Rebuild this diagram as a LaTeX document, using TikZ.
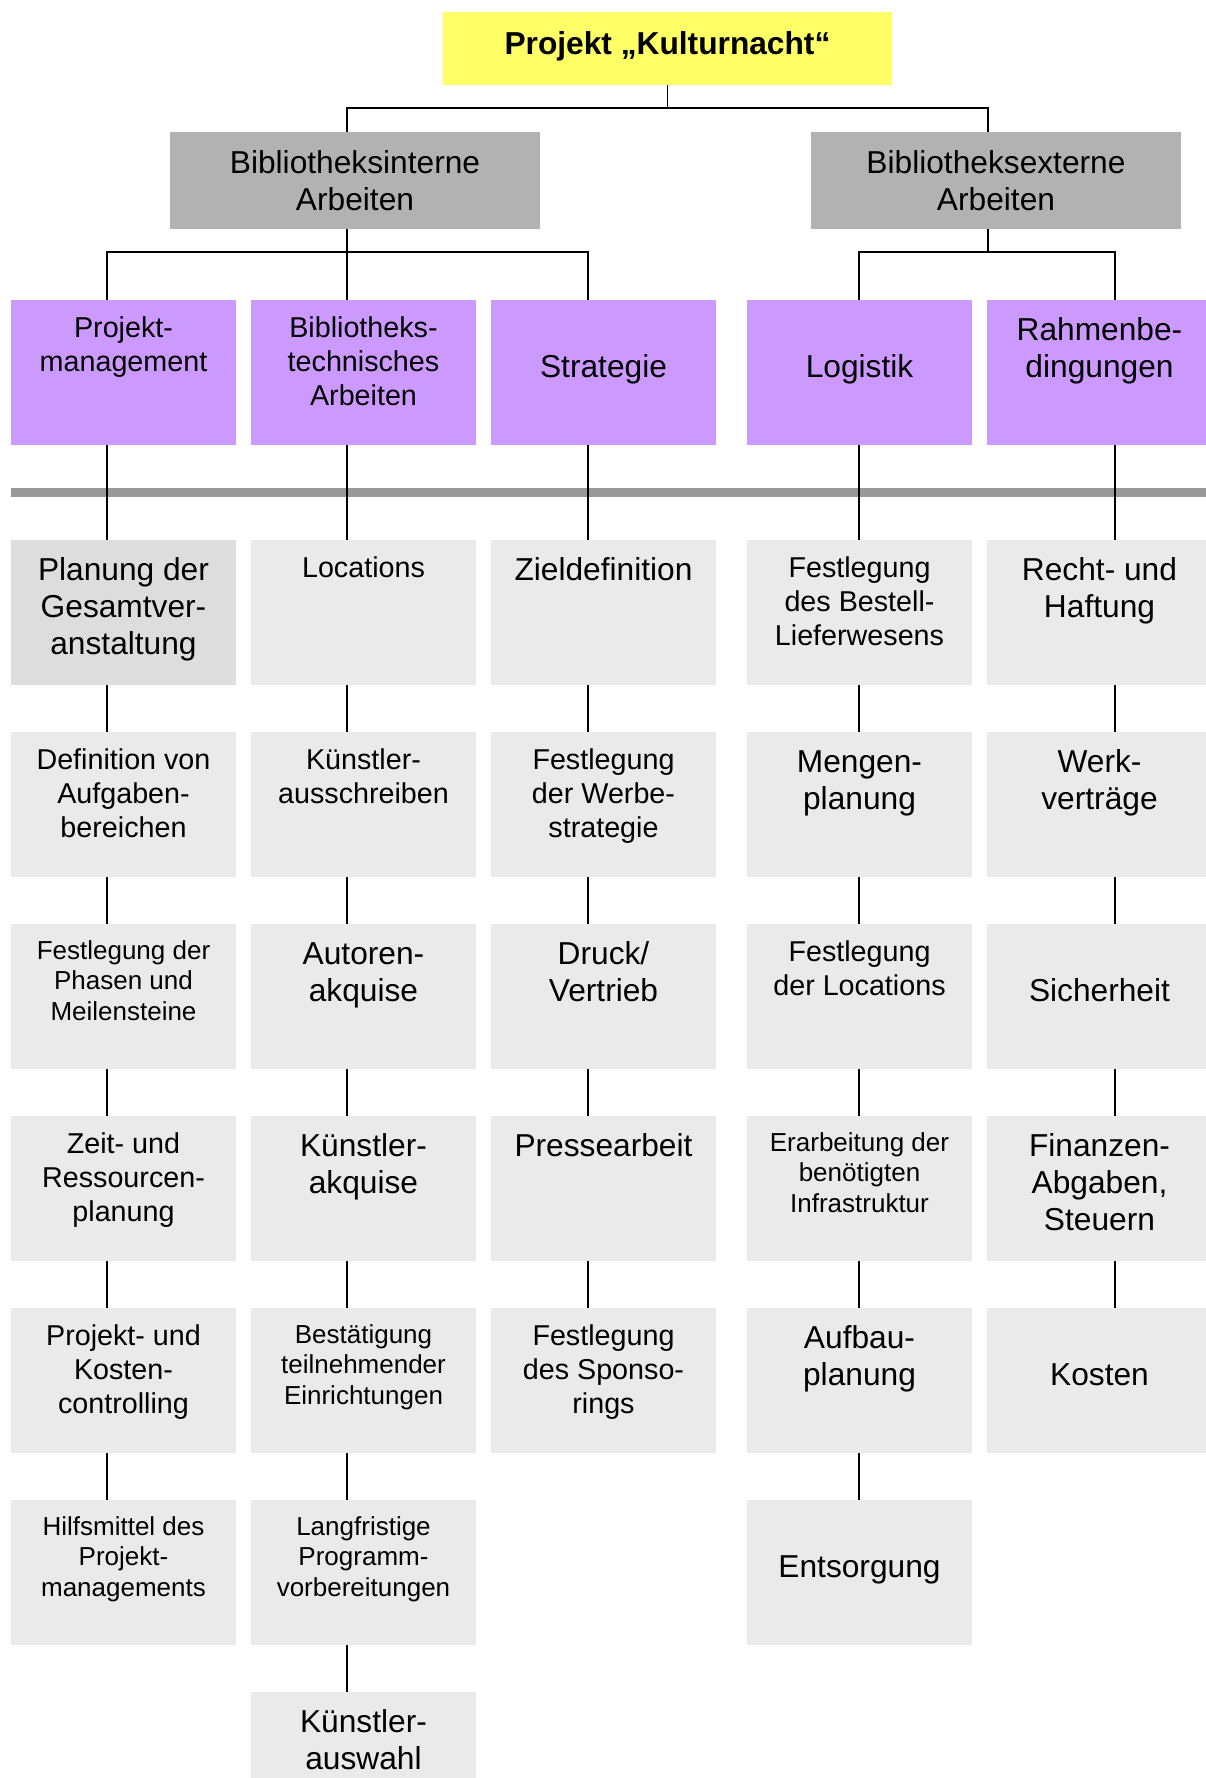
\documentclass[tikz,border=0pt]{standalone}
\usepackage{fontspec}
\setmainfont{Liberation Sans}

\definecolor{titleyellow}{RGB}{255,255,102}
\definecolor{groupgray}{RGB}{178,178,178}
\definecolor{areaviolet}{RGB}{204,153,255}
\definecolor{taskgray}{RGB}{234,234,234}
\definecolor{taskdark}{RGB}{221,221,221}
\definecolor{bandgray}{RGB}{153,153,153}

% three text sizes used in the chart
\newcommand\fL{\fontsize{31.7pt}{37.1pt}\selectfont}
\newcommand\fM{\fontsize{28.7pt}{33.6pt}\selectfont}
\newcommand\fS{\fontsize{26pt}{30.4pt}\selectfont}

% box contents: top-anchored, centred lines;
% #1 width, #2 height, #3 top inset, #4 font, #5 lines
\newcommand\boxlines[5]{\parbox[c][#2][t]{#1}{\centering#4\vspace*{#3}\rule{0pt}{0.9em}#5\par\vfill}}
\newcommand\tasktext[2]{\boxlines{225pt}{145pt}{12pt}{#1}{#2}}

\begin{document}
\begin{tikzpicture}[x=1pt,y=-1pt,
  boxbase/.style={rectangle,inner sep=0pt,outer sep=0pt,anchor=north west},
  headbox/.style={boxbase,fill=titleyellow},
  groupbox/.style={boxbase,fill=groupgray},
  areabox/.style={boxbase,fill=areaviolet},
  taskbox/.style={boxbase,fill=taskgray},
  treeline/.style={draw=black,line width=1.6pt},
  chainline/.style={draw=black,line width=1.4pt}]

\useasboundingbox (0,0) rectangle (1206,1778);
\clip (0,0) rectangle (1206,1778);

% connector columns and bar heights
\coordinate (xint) at (347,0);
\coordinate (xext) at (988,0);
\coordinate (xpm) at (107,0);
\coordinate (xbt) at (347,0);
\coordinate (xst) at (588,0);
\coordinate (xlo) at (859,0);
\coordinate (xrb) at (1115,0);
\coordinate (bara) at (0,108);
\coordinate (barb) at (0,252);

% title and the two groups
\node[headbox] (title) at (443,12) {\boxlines{449pt}{73pt}{13.5pt}{\fL\bfseries}{Projekt „Kulturnacht“}};
\node[groupbox] (int) at (170,132) {\boxlines{370pt}{97pt}{12.5pt}{\fL}{Bibliotheksinterne\\Arbeiten}};
\node[groupbox] (ext) at (811,132) {\boxlines{370pt}{97pt}{12.5pt}{\fL}{Bibliotheksexterne\\Arbeiten}};

% work areas
\node[areabox] (pm) at (11,300)  {\tasktext{\fM}{Projekt-\\management}};
\node[areabox] (bt) at (251,300) {\tasktext{\fM}{Bibliotheks-\\technisches\\Arbeiten}};
\node[areabox] (st) at (491,300) {\tasktext{\fL}{\\Strategie}};
\node[areabox] (lo) at (747,300) {\tasktext{\fL}{\\Logistik}};
\node[areabox] (rb) at (987,300) {\tasktext{\fL}{Rahmenbe-\\dingungen}};

% separator band
\fill[bandgray] (11,488) rectangle (1206,496.5);

% work packages, row 1
\node[taskbox,fill=taskdark] (pm1) at (11,540) {\tasktext{\fL}{Planung der\\Gesamtver-\\anstaltung}};
\node[taskbox] (bt1) at (251,540) {\tasktext{\fM}{Locations}};
\node[taskbox] (st1) at (491,540) {\tasktext{\fL}{Zieldefinition}};
\node[taskbox] (lo1) at (747,540) {\tasktext{\fM}{Festlegung\\des Bestell-\\Lieferwesens}};
\node[taskbox] (rb1) at (987,540) {\tasktext{\fL}{Recht- und\\Haftung}};

% row 2
\node[taskbox] (pm2) at (11,732)  {\tasktext{\fM}{Definition von\\Aufgaben-\\bereichen}};
\node[taskbox] (bt2) at (251,732) {\tasktext{\fM}{Künstler-\\ausschreiben}};
\node[taskbox] (st2) at (491,732) {\tasktext{\fM}{Festlegung\\der Werbe-\\strategie}};
\node[taskbox] (lo2) at (747,732) {\tasktext{\fL}{Mengen-\\planung}};
\node[taskbox] (rb2) at (987,732) {\tasktext{\fL}{Werk-\\verträge}};

% row 3
\node[taskbox] (pm3) at (11,924)  {\tasktext{\fS}{Festlegung der\\Phasen und\\Meilensteine}};
\node[taskbox] (bt3) at (251,924) {\tasktext{\fL}{Autoren-\\akquise}};
\node[taskbox] (st3) at (491,924) {\tasktext{\fL}{Druck/\\Vertrieb}};
\node[taskbox] (lo3) at (747,924) {\tasktext{\fM}{Festlegung\\der Locations}};
\node[taskbox] (rb3) at (987,924) {\tasktext{\fL}{\\Sicherheit}};

% row 4
\node[taskbox] (pm4) at (11,1116)  {\tasktext{\fM}{Zeit- und\\Ressourcen-\\planung}};
\node[taskbox] (bt4) at (251,1116) {\tasktext{\fL}{Künstler-\\akquise}};
\node[taskbox] (st4) at (491,1116) {\tasktext{\fL}{Pressearbeit}};
\node[taskbox] (lo4) at (747,1116) {\tasktext{\fS}{Erarbeitung der\\benötigten\\Infrastruktur}};
\node[taskbox] (rb4) at (987,1116) {\tasktext{\fL}{Finanzen-\\Abgaben,\\Steuern}};

% row 5
\node[taskbox] (pm5) at (11,1308)  {\tasktext{\fM}{Projekt- und\\Kosten-\\controlling}};
\node[taskbox] (bt5) at (251,1308) {\tasktext{\fS}{Bestätigung\\teilnehmender\\Einrichtungen}};
\node[taskbox] (st5) at (491,1308) {\tasktext{\fM}{Festlegung\\des Sponso-\\rings}};
\node[taskbox] (lo5) at (747,1308) {\tasktext{\fL}{Aufbau-\\planung}};
\node[taskbox] (rb5) at (987,1308) {\tasktext{\fL}{\\Kosten}};

% row 6
\node[taskbox] (pm6) at (11,1500)  {\tasktext{\fS}{Hilfsmittel des\\Projekt-\\managements}};
\node[taskbox] (bt6) at (251,1500) {\tasktext{\fS}{Langfristige\\Programm-\\vorbereitungen}};
\node[taskbox] (lo6) at (747,1500) {\tasktext{\fL}{\\Entsorgung}};

% row 7
\node[taskbox] (bt7) at (251,1692) {\tasktext{\fL}{Künstler-\\auswahl}};

% tree above the work areas
\draw[treeline] (title.south) -- (title.south |- bara);
\draw[treeline] (int.north -| xint) |- (bara -| xext) -- (ext.north -| xext);
\draw[treeline] (int.south -| xint) -- (barb -| xint);
\draw[treeline] (pm.north -| xpm) |- (barb -| xst) -- (st.north -| xst);
\draw[treeline] (bt.north -| xbt) -- (barb -| xbt);
\draw[treeline] (ext.south -| xext) -- (barb -| xext);
\draw[treeline] (lo.north -| xlo) |- (barb -| xrb) -- (rb.north -| xrb);

% chains down each column
\foreach \a/\b in {pm/pm1,pm1/pm2,pm2/pm3,pm3/pm4,pm4/pm5,pm5/pm6}
  \draw[chainline] (\a.south -| xpm) -- (\b.north -| xpm);
\foreach \a/\b in {bt/bt1,bt1/bt2,bt2/bt3,bt3/bt4,bt4/bt5,bt5/bt6,bt6/bt7}
  \draw[chainline] (\a.south -| xbt) -- (\b.north -| xbt);
\foreach \a/\b in {st/st1,st1/st2,st2/st3,st3/st4,st4/st5}
  \draw[chainline] (\a.south -| xst) -- (\b.north -| xst);
\foreach \a/\b in {lo/lo1,lo1/lo2,lo2/lo3,lo3/lo4,lo4/lo5,lo5/lo6}
  \draw[chainline] (\a.south -| xlo) -- (\b.north -| xlo);
\foreach \a/\b in {rb/rb1,rb1/rb2,rb2/rb3,rb3/rb4,rb4/rb5}
  \draw[chainline] (\a.south -| xrb) -- (\b.north -| xrb);
\end{tikzpicture}
\end{document}
